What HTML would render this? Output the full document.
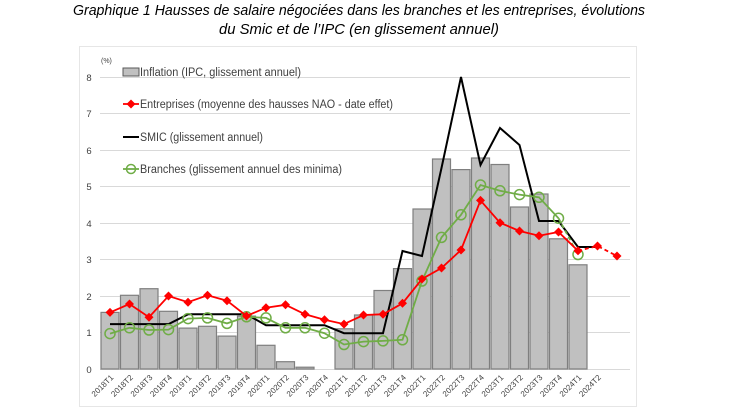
<!DOCTYPE html>
<html><head><meta charset="utf-8"><style>
html,body{margin:0;padding:0;background:#fff}
svg{display:block;font-family:"Liberation Sans",sans-serif}
</style></head><body>
<svg width="730" height="410" viewBox="0 0 730 410" xmlns="http://www.w3.org/2000/svg">
<text x="359" y="15" text-anchor="middle" font-size="14.5" font-style="italic" textLength="572" lengthAdjust="spacingAndGlyphs" fill="#000">Graphique 1 Hausses de salaire négociées dans les branches et les entreprises, évolutions</text>
<text x="359" y="34" text-anchor="middle" font-size="14.5" font-style="italic" textLength="280" lengthAdjust="spacingAndGlyphs" fill="#000">du Smic et de l’IPC (en glissement annuel)</text>
<rect x="79.5" y="46.5" width="557" height="360" fill="none" stroke="#e6e6e6"/>
<g stroke="#d9d9d9" stroke-width="1">
<line x1="100" x2="630" y1="77.5" y2="77.5"/><line x1="100" x2="630" y1="113.5" y2="113.5"/><line x1="100" x2="630" y1="150.5" y2="150.5"/><line x1="100" x2="630" y1="186.5" y2="186.5"/><line x1="100" x2="630" y1="223.5" y2="223.5"/><line x1="100" x2="630" y1="259.5" y2="259.5"/><line x1="100" x2="630" y1="296.5" y2="296.5"/><line x1="100" x2="630" y1="332.5" y2="332.5"/><line x1="100" x2="630" y1="369.5" y2="369.5"/>
</g>
<g font-size="9.5" fill="#404040" text-anchor="middle">
<text x="89" y="81">8</text><text x="89" y="117">7</text><text x="89" y="154">6</text><text x="89" y="190">5</text><text x="89" y="227">4</text><text x="89" y="263">3</text><text x="89" y="300">2</text><text x="89" y="336">1</text><text x="89" y="373">0</text>
</g>
<text x="101" y="63" font-size="7" fill="#404040">(%)</text>
<g fill="#c0c0c0" stroke="#7f7f7f" stroke-width="1.2">
<rect x="101" y="312.4" width="18" height="56.6"/>
<rect x="120.5" y="295.3" width="18" height="73.7"/>
<rect x="140" y="288.7" width="18" height="80.3"/>
<rect x="159.5" y="311.3" width="18" height="57.7"/>
<rect x="179" y="328.1" width="18" height="40.9"/>
<rect x="198.5" y="326.3" width="18" height="42.7"/>
<rect x="218" y="336.1" width="18" height="32.9"/>
<rect x="237.5" y="316.1" width="18" height="52.9"/>
<rect x="257" y="345.3" width="18" height="23.7"/>
<rect x="276.5" y="361.7" width="18" height="7.3"/>
<rect x="296" y="367.2" width="18" height="1.8"/>
<rect x="335" y="328.8" width="18" height="40.2"/>
<rect x="354.5" y="315" width="18" height="54"/>
<rect x="374" y="290.5" width="18" height="78.5"/>
<rect x="393.5" y="268.6" width="18" height="100.4"/>
<rect x="413" y="209" width="18" height="160"/>
<rect x="432.5" y="159" width="18" height="210"/>
<rect x="452" y="169.6" width="18" height="199.4"/>
<rect x="471.5" y="158" width="18" height="211"/>
<rect x="491" y="164.5" width="18" height="204.5"/>
<rect x="510.5" y="207" width="18" height="162"/>
<rect x="530" y="194" width="18" height="175"/>
<rect x="549.5" y="238.8" width="18" height="130.2"/>
<rect x="569" y="264.8" width="18" height="104.2"/>
</g>
<polyline fill="none" stroke="#000" stroke-width="2" points="110,324.1 129.5,324.1 149,324.1 168.5,324.1 188,314.3 207.5,314.3 227,314.3 246.5,314.3 266,325.2 285.5,325.2 305,325.2 324.5,325.2 344,333.2 363.5,333.2 383,333.2 402.5,251 422,256 441.5,168 461,77 480.5,165 500,128 519.5,145 539,221 558.5,221 578,247 597.5,247"/>
<polyline fill="none" stroke="#70ad47" stroke-width="1.8" points="110,333.6 129.5,327.8 149,330 168.5,329.6 188,318.6 207.5,317.9 227,323.4 246.5,316.8 266,317.9 285.5,327.8 305,327.8 324.5,333.2 344,344.5 363.5,341.6 383,340.9 402.5,339.8 422,281 441.5,237.4 461,214.8 480.5,185 500,190.8 519.5,194.6 539,197.3 558.5,218.2"/>
<line x1="558.5" y1="218.2" x2="578" y2="254.5" stroke="#70ad47" stroke-width="1.8" stroke-dasharray="4,3"/>
<g fill="none" stroke="#70ad47" stroke-width="1.5">
<circle cx="110" cy="333.6" r="5"/><circle cx="129.5" cy="327.8" r="5"/><circle cx="149" cy="330" r="5"/><circle cx="168.5" cy="329.6" r="5"/><circle cx="188" cy="318.6" r="5"/><circle cx="207.5" cy="317.9" r="5"/><circle cx="227" cy="323.4" r="5"/><circle cx="246.5" cy="316.8" r="5"/><circle cx="266" cy="317.9" r="5"/><circle cx="285.5" cy="327.8" r="5"/><circle cx="305" cy="327.8" r="5"/><circle cx="324.5" cy="333.2" r="5"/><circle cx="344" cy="344.5" r="5"/><circle cx="363.5" cy="341.6" r="5"/><circle cx="383" cy="340.9" r="5"/><circle cx="402.5" cy="339.8" r="5"/><circle cx="422" cy="281" r="5"/><circle cx="441.5" cy="237.4" r="5"/><circle cx="461" cy="214.8" r="5"/><circle cx="480.5" cy="185" r="5"/><circle cx="500" cy="190.8" r="5"/><circle cx="519.5" cy="194.6" r="5"/><circle cx="539" cy="197.3" r="5"/><circle cx="558.5" cy="218.2" r="5"/><circle cx="578" cy="254.5" r="5"/>
</g>
<polyline fill="none" stroke="#ff0000" stroke-width="1.8" points="110,312.4 129.5,304 149,317.2 168.5,296 188,302.2 207.5,295.3 227,300.7 246.5,316 266,307.7 285.5,304.8 305,314.3 324.5,319.7 344,324.1 363.5,315 383,314.3 402.5,303.3 422,279 441.5,268 461,250 480.5,200.4 500,222.7 519.5,231 539,235.7 558.5,232 578,250.8"/>
<polyline fill="none" stroke="#ff0000" stroke-width="1.8" stroke-dasharray="4,3" points="578,250.8 597.5,246 617,256"/>
<g fill="#ff0000">
<path d="M0,-4.5 L4.5,0 L0,4.5 L-4.5,0Z" transform="translate(110,312.4)"/>
<path d="M0,-4.5 L4.5,0 L0,4.5 L-4.5,0Z" transform="translate(129.5,304)"/>
<path d="M0,-4.5 L4.5,0 L0,4.5 L-4.5,0Z" transform="translate(149,317.2)"/>
<path d="M0,-4.5 L4.5,0 L0,4.5 L-4.5,0Z" transform="translate(168.5,296)"/>
<path d="M0,-4.5 L4.5,0 L0,4.5 L-4.5,0Z" transform="translate(188,302.2)"/>
<path d="M0,-4.5 L4.5,0 L0,4.5 L-4.5,0Z" transform="translate(207.5,295.3)"/>
<path d="M0,-4.5 L4.5,0 L0,4.5 L-4.5,0Z" transform="translate(227,300.7)"/>
<path d="M0,-4.5 L4.5,0 L0,4.5 L-4.5,0Z" transform="translate(246.5,316)"/>
<path d="M0,-4.5 L4.5,0 L0,4.5 L-4.5,0Z" transform="translate(266,307.7)"/>
<path d="M0,-4.5 L4.5,0 L0,4.5 L-4.5,0Z" transform="translate(285.5,304.8)"/>
<path d="M0,-4.5 L4.5,0 L0,4.5 L-4.5,0Z" transform="translate(305,314.3)"/>
<path d="M0,-4.5 L4.5,0 L0,4.5 L-4.5,0Z" transform="translate(324.5,319.7)"/>
<path d="M0,-4.5 L4.5,0 L0,4.5 L-4.5,0Z" transform="translate(344,324.1)"/>
<path d="M0,-4.5 L4.5,0 L0,4.5 L-4.5,0Z" transform="translate(363.5,315)"/>
<path d="M0,-4.5 L4.5,0 L0,4.5 L-4.5,0Z" transform="translate(383,314.3)"/>
<path d="M0,-4.5 L4.5,0 L0,4.5 L-4.5,0Z" transform="translate(402.5,303.3)"/>
<path d="M0,-4.5 L4.5,0 L0,4.5 L-4.5,0Z" transform="translate(422,279)"/>
<path d="M0,-4.5 L4.5,0 L0,4.5 L-4.5,0Z" transform="translate(441.5,268)"/>
<path d="M0,-4.5 L4.5,0 L0,4.5 L-4.5,0Z" transform="translate(461,250)"/>
<path d="M0,-4.5 L4.5,0 L0,4.5 L-4.5,0Z" transform="translate(480.5,200.4)"/>
<path d="M0,-4.5 L4.5,0 L0,4.5 L-4.5,0Z" transform="translate(500,222.7)"/>
<path d="M0,-4.5 L4.5,0 L0,4.5 L-4.5,0Z" transform="translate(519.5,231)"/>
<path d="M0,-4.5 L4.5,0 L0,4.5 L-4.5,0Z" transform="translate(539,235.7)"/>
<path d="M0,-4.5 L4.5,0 L0,4.5 L-4.5,0Z" transform="translate(558.5,232)"/>
<path d="M0,-4.5 L4.5,0 L0,4.5 L-4.5,0Z" transform="translate(578,250.8)"/>
<path d="M0,-4.5 L4.5,0 L0,4.5 L-4.5,0Z" transform="translate(597.5,246)"/>
<path d="M0,-4.5 L4.5,0 L0,4.5 L-4.5,0Z" transform="translate(617,256)"/>
</g>
<g font-size="8" fill="#404040" text-anchor="end">
<text transform="translate(114,378) rotate(-45)">2018T1</text>
<text transform="translate(133.5,378) rotate(-45)">2018T2</text>
<text transform="translate(153,378) rotate(-45)">2018T3</text>
<text transform="translate(172.5,378) rotate(-45)">2018T4</text>
<text transform="translate(192,378) rotate(-45)">2019T1</text>
<text transform="translate(211.5,378) rotate(-45)">2019T2</text>
<text transform="translate(231,378) rotate(-45)">2019T3</text>
<text transform="translate(250.5,378) rotate(-45)">2019T4</text>
<text transform="translate(270,378) rotate(-45)">2020T1</text>
<text transform="translate(289.5,378) rotate(-45)">2020T2</text>
<text transform="translate(309,378) rotate(-45)">2020T3</text>
<text transform="translate(328.5,378) rotate(-45)">2020T4</text>
<text transform="translate(348,378) rotate(-45)">2021T1</text>
<text transform="translate(367.5,378) rotate(-45)">2021T2</text>
<text transform="translate(387,378) rotate(-45)">2021T3</text>
<text transform="translate(406.5,378) rotate(-45)">2021T4</text>
<text transform="translate(426,378) rotate(-45)">2022T1</text>
<text transform="translate(445.5,378) rotate(-45)">2022T2</text>
<text transform="translate(465,378) rotate(-45)">2022T3</text>
<text transform="translate(484.5,378) rotate(-45)">2022T4</text>
<text transform="translate(504,378) rotate(-45)">2023T1</text>
<text transform="translate(523.5,378) rotate(-45)">2023T2</text>
<text transform="translate(543,378) rotate(-45)">2023T3</text>
<text transform="translate(562.5,378) rotate(-45)">2023T4</text>
<text transform="translate(582,378) rotate(-45)">2024T1</text>
<text transform="translate(601.5,378) rotate(-45)">2024T2</text>
</g>
<rect x="123" y="68" width="16" height="8" fill="#c0c0c0" stroke="#595959"/>
<line x1="123" x2="139" y1="104" y2="104" stroke="#ff0000" stroke-width="1.8"/>
<path d="M131,99.5 L135.5,104 L131,108.5 L126.5,104Z" fill="#ff0000"/>
<line x1="123" x2="139" y1="137" y2="137" stroke="#000" stroke-width="2"/>
<line x1="123" x2="139" y1="169" y2="169" stroke="#70ad47" stroke-width="1.8"/>
<circle cx="131" cy="169" r="4.5" fill="none" stroke="#70ad47" stroke-width="1.5"/>
<g font-size="11.5" fill="#404040" lengthAdjust="spacingAndGlyphs">
<text x="140" y="76" textLength="161" lengthAdjust="spacingAndGlyphs">Inflation (IPC, glissement annuel)</text>
<text x="140" y="108" textLength="253" lengthAdjust="spacingAndGlyphs">Entreprises (moyenne des hausses NAO - date effet)</text>
<text x="140" y="141" textLength="123" lengthAdjust="spacingAndGlyphs">SMIC (glissement annuel)</text>
<text x="140" y="173" textLength="202" lengthAdjust="spacingAndGlyphs">Branches (glissement annuel des minima)</text>
</g>
</svg>
</body></html>
